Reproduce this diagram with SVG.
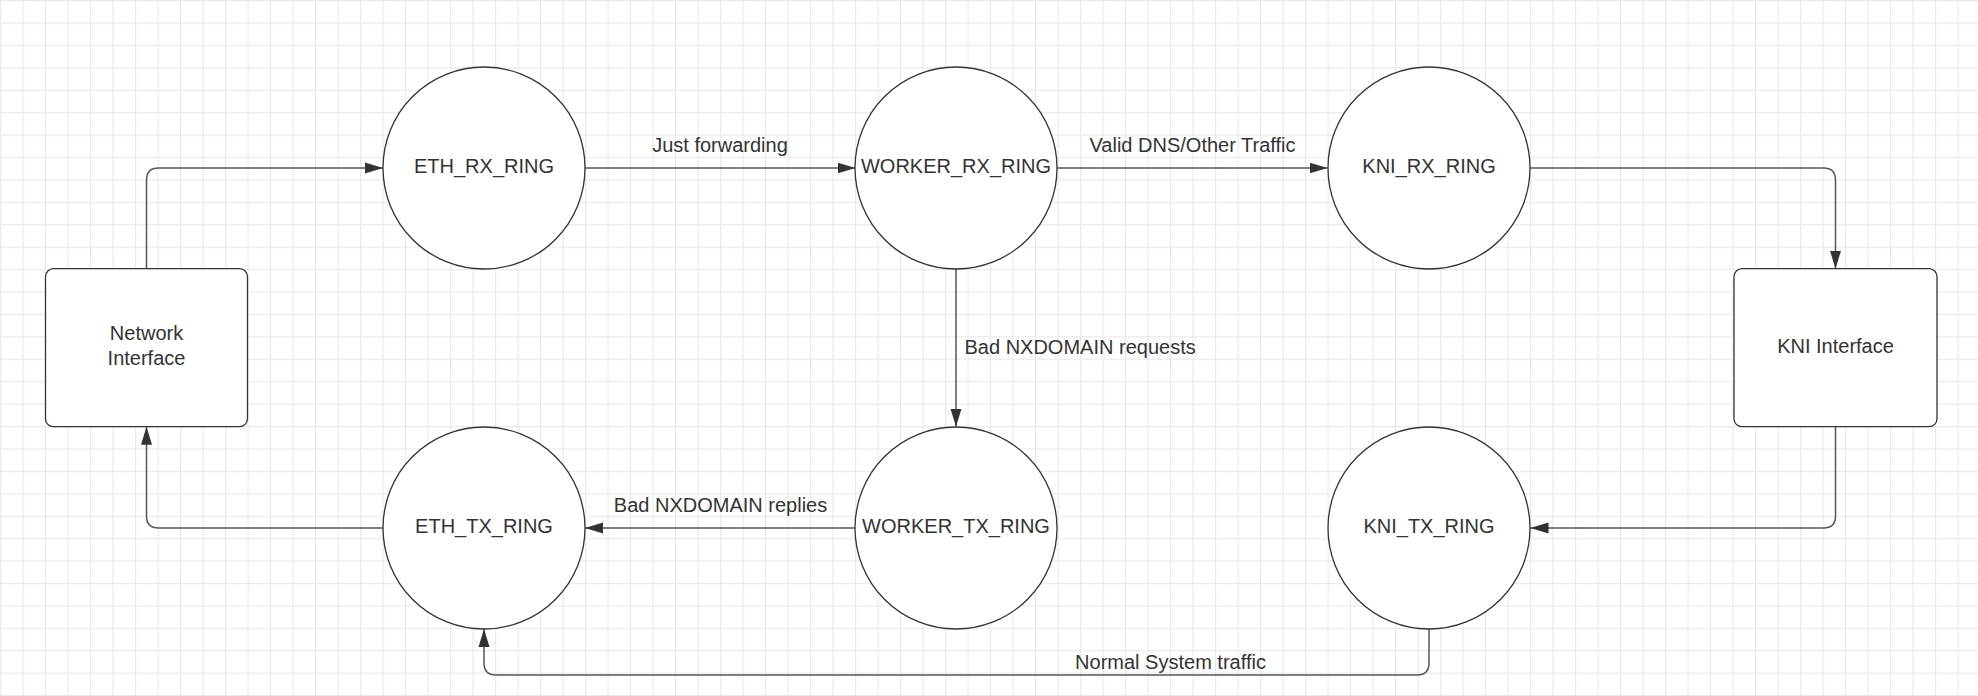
<svg xmlns="http://www.w3.org/2000/svg" width="1978" height="696" viewBox="0 0 1978 696">
<defs>
<pattern id="grid" x="0" y="0" width="22.5" height="22.42" patternUnits="userSpaceOnUse">
<path d="M0.5 0 V22.42 M0 0.5 H22.5" fill="none" stroke="#e9e9e9" stroke-width="1.4"/>
</pattern>
<marker id="arr" markerWidth="18" markerHeight="12" refX="18" refY="6" orient="auto" markerUnits="userSpaceOnUse">
<path d="M0,0.5 L18,6 L0,11.5 Z" fill="#333333"/>
</marker>
</defs>
<style>
.node{fill:#ffffff;stroke:#333333;stroke-width:1.3}
.lbl{font-family:"Liberation Sans",Arial,sans-serif;font-size:20px;fill:#333333;text-anchor:middle}
.edge{fill:none;stroke:#555555;stroke-width:1.5}
.elbl{font-family:"Liberation Sans",Arial,sans-serif;font-size:20px;fill:#333333}
</style>
<rect width="1978" height="696" fill="#ffffff"/>
<rect width="1978" height="696" fill="url(#grid)"/>

<g id="connectors">
<path class="edge" d="M146.5,268.7 V180 Q146.5,168 158.5,168 H383" marker-end="url(#arr)"/>
<path class="edge" d="M585,168 H855.5" marker-end="url(#arr)"/>
<path class="edge" d="M1057,168 H1327.5" marker-end="url(#arr)"/>
<path class="edge" d="M1530.5,168 H1823.5 Q1835.5,168 1835.5,180 V268.7" marker-end="url(#arr)"/>
<path class="edge" d="M1835.5,426.7 V516 Q1835.5,528 1823.5,528 H1530.5" marker-end="url(#arr)"/>
<path class="edge" d="M1429,629 V663 Q1429,675 1417,675 H496 Q484,675 484,663 V629" marker-end="url(#arr)"/>
<path class="edge" d="M956,268.7 V426.7" marker-end="url(#arr)"/>
<path class="edge" d="M855.5,528 H585" marker-end="url(#arr)"/>
<path class="edge" d="M383,528 H158.5 Q146.5,528 146.5,516 V426.7" marker-end="url(#arr)"/>
<text class="elbl" x="720" y="152" text-anchor="middle">Just forwarding</text>
<text class="elbl" x="1192.5" y="152" text-anchor="middle">Valid DNS/Other Traffic</text>
<text class="elbl" x="964.5" y="354">Bad NXDOMAIN requests</text>
<text class="elbl" x="720.5" y="512" text-anchor="middle">Bad NXDOMAIN replies</text>
<text class="elbl" x="1170.5" y="669" text-anchor="middle">Normal System traffic</text>
</g>

<g id="network-interface">
<rect class="node" x="45.5" y="268.7" width="202" height="158" rx="8"/>
<text class="lbl" x="146.5" y="340">Network</text>
<text class="lbl" x="146.5" y="365">Interface</text>
</g>
<g id="eth-rx-ring">
<circle class="node" cx="484" cy="168" r="101"/>
<text class="lbl" x="484" y="173">ETH_RX_RING</text>
</g>
<g id="worker-rx-ring">
<circle class="node" cx="956" cy="168" r="101"/>
<text class="lbl" x="956" y="173">WORKER_RX_RING</text>
</g>
<g id="kni-rx-ring">
<circle class="node" cx="1429" cy="168" r="101"/>
<text class="lbl" x="1429" y="173">KNI_RX_RING</text>
</g>
<g id="kni-interface">
<rect class="node" x="1734" y="268.7" width="203" height="158" rx="8"/>
<text class="lbl" x="1835.5" y="353">KNI Interface</text>
</g>
<g id="eth-tx-ring">
<circle class="node" cx="484" cy="528" r="101"/>
<text class="lbl" x="484" y="533">ETH_TX_RING</text>
</g>
<g id="worker-tx-ring">
<circle class="node" cx="956" cy="528" r="101"/>
<text class="lbl" x="956" y="533">WORKER_TX_RING</text>
</g>
<g id="kni-tx-ring">
<circle class="node" cx="1429" cy="528" r="101"/>
<text class="lbl" x="1429" y="533">KNI_TX_RING</text>
</g>
</svg>
